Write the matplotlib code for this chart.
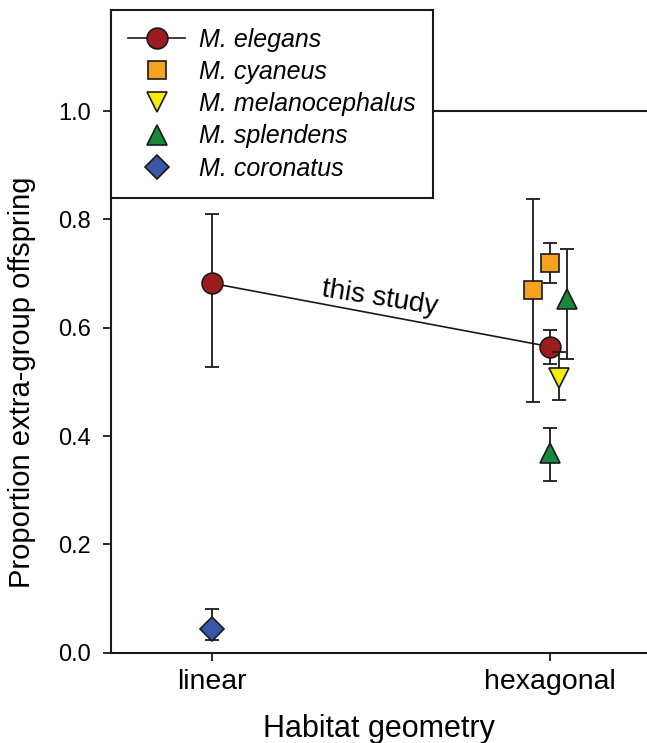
import matplotlib
matplotlib.use("Agg")
import matplotlib.pyplot as plt
from matplotlib.lines import Line2D

plt.rcParams['font.family'] = ['Liberation Sans', 'DejaVu Sans']

categories = ["linear", "hexagonal"]

# species data: category index, value, lower bound, upper bound
elegans_cat = [0, 1]
elegans_val = [0.682, 0.565]
elegans_lo = [0.527, 0.533]
elegans_hi = [0.810, 0.596]

cyaneus_cat = [1, 1]
cyaneus_val = [0.670, 0.720]
cyaneus_lo = [0.463, 0.682]
cyaneus_hi = [0.838, 0.756]

melano_cat = [1]
melano_val = [0.507]
melano_lo = [0.467]
melano_hi = [0.555]

splendens_cat = [1, 1]
splendens_val = [0.653, 0.369]
splendens_lo = [0.542, 0.317]
splendens_hi = [0.745, 0.415]

coronatus_cat = [0]
coronatus_val = [0.043]
coronatus_lo = [0.023]
coronatus_hi = [0.081]

# horizontal jitter (layout only)
cyaneus_off = [-0.05, 0.0]
melano_off = [0.026]
splendens_off = [0.05, 0.0]

yticks = [0.0, 0.2, 0.4, 0.6, 0.8, 1.0]

fig = plt.figure(figsize=(6.47, 7.43), dpi=100)
ax = fig.add_axes([0.171, 0.1215, 0.829, 0.865])

edge = '#1a1a1a'
elw = 1.3
cap = 5

def draw(cats, offs, vals, lo, hi, marker, color, ms, z, line=False):
    xs = [c + o for c, o in zip(cats, offs)]
    yerr = [[v - l for v, l in zip(vals, lo)], [h - v for v, h in zip(vals, hi)]]
    ax.errorbar(xs, vals, yerr=yerr, fmt='none', ecolor=edge, elinewidth=elw,
                capsize=cap, capthick=elw, zorder=z)
    if line:
        ax.plot(xs, vals, '-', color=edge, lw=1.2, zorder=z + 0.1)
    ax.plot(xs, vals, linestyle='none', marker=marker, ms=ms, mfc=color,
            mec=edge, mew=1.2, zorder=z + 0.2)

ax.axhline(1.0, color=edge, lw=1.5, zorder=1)

draw(cyaneus_cat, cyaneus_off, cyaneus_val, cyaneus_lo, cyaneus_hi, 's', '#F4A21F', 13, 2)
draw(splendens_cat, splendens_off, splendens_val, splendens_lo, splendens_hi, '^', '#17873C', 14, 2)
draw(elegans_cat, [0, 0], elegans_val, elegans_lo, elegans_hi, 'o', '#9C1C20', 15, 3, line=True)
draw(melano_cat, melano_off, melano_val, melano_lo, melano_hi, 'v', '#F3EC0C', 14, 4)
draw(coronatus_cat, [0], coronatus_val, coronatus_lo, coronatus_hi, 'D', '#3A57A7', 12, 2)

ax.text(0.497, 0.655, "this study", fontsize=20, rotation=-9, ha='center', va='center')

ax.set_xlim(-0.3, 1.287)
ax.set_ylim(0, 1.1865)
ax.set_xticks([0, 1])
ax.set_xticklabels(categories, fontsize=20.5)
ax.set_yticks(yticks)
ax.set_yticklabels([f"{t:.1f}" for t in yticks], fontsize=17)
ax.tick_params(axis='both', direction='out', length=6, width=1.3, color=edge)
ax.tick_params(axis='x', pad=6)
ax.tick_params(axis='y', pad=8)

for s in ['top', 'right']:
    ax.spines[s].set_visible(False)
for s in ['left', 'bottom']:
    ax.spines[s].set_linewidth(1.5)
    ax.spines[s].set_color(edge)

ax.set_ylabel("Proportion extra-group offspring", fontsize=21)
ax.yaxis.set_label_coords(-0.14, 0.5 / 1.1865)
ax.set_xlabel("Habitat geometry", fontsize=22)
ax.xaxis.set_label_coords(0.5, -0.095)

handles = [
    Line2D([], [], color=edge, lw=1.2, marker='o', ms=15, mfc='#9C1C20', mec=edge, mew=1.2),
    Line2D([], [], ls='none', marker='s', ms=13, mfc='#F4A21F', mec=edge, mew=1.2),
    Line2D([], [], ls='none', marker='v', ms=14, mfc='#F3EC0C', mec=edge, mew=1.2),
    Line2D([], [], ls='none', marker='^', ms=14, mfc='#17873C', mec=edge, mew=1.2),
    Line2D([], [], ls='none', marker='D', ms=12, mfc='#3A57A7', mec=edge, mew=1.2),
]
labels = ["M. elegans", "M. cyaneus", "M. melanocephalus", "M. splendens", "M. coronatus"]
leg = ax.legend(handles, labels, loc='upper left', bbox_to_anchor=(0, 1),
                borderaxespad=0, frameon=True, fancybox=False, framealpha=1,
                edgecolor=edge, prop={'size': 18, 'style': 'italic'},
                handlelength=2.28, handletextpad=0.56, labelspacing=0.33,
                borderpad=0.7)
leg.get_frame().set_linewidth(1.5)
leg.set_zorder(10)

fig.savefig("out.png", dpi=100)
